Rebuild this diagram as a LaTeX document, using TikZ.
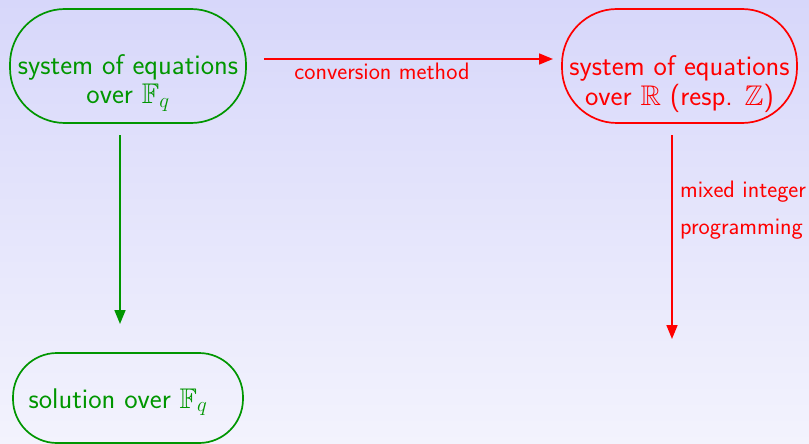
\documentclass[tikz,border=0pt]{standalone}
\usepackage{amssymb}
\usetikzlibrary{arrows.meta}
\definecolor{bgtop}{RGB}{215,215,250}
\definecolor{bgbot}{RGB}{243,243,253}
\definecolor{fgreen}{RGB}{0,150,0}
\definecolor{fred}{RGB}{255,0,0}
\tikzset{
  stadium/.style={draw=#1, text=#1, line width=1.7pt, inner sep=0pt,
    font=\sffamily\fontsize{28.4}{29.5}\selectfont, align=center},
  smalltext/.style={text=#1, font=\sffamily\fontsize{23.8}{37}\selectfont, inner sep=0pt},
  flow/.style={draw=#1, line width=1.7pt, -{Triangle[length=14pt,width=11pt]}}
}
\begin{document}
\begin{tikzpicture}[x=1pt,y=-1pt]
  % background
  \shade[top color=bgtop, bottom color=bgbot] (0,0) rectangle (809,444);
  \useasboundingbox (0,0) rectangle (809,444);

  % boxes with their texts (struts push the text below the box centre)
  \node[stadium=fgreen, rounded corners=55pt, minimum width=236pt, minimum height=114pt] (srcbox) at (128,66)
    {\rule{0pt}{54pt}system of equations\\ over $\mathbb{F}_q$};
  \node[stadium=fred, rounded corners=55pt, minimum width=235pt, minimum height=114pt] (dstbox) at (679.5,66)
    {\rule{0pt}{56pt}system of equations\\ over $\mathbb{R}$ (resp. $\mathbb{Z}$)};
  \node[stadium=fgreen, rounded corners=44pt, minimum width=230pt, minimum height=90pt] (solbox) at (128,398)
    {\rule{0pt}{28pt}solution over $\mathbb{F}_q$\hspace*{20pt}};

  % arrow end points
  \coordinate (convstart) at (264,59);
  \coordinate (convend) at (553,59);
  \coordinate (solvestart) at (120,135);
  \coordinate (solveend) at (120,324);
  \coordinate (milpstart) at (672,135);
  \coordinate (milpend) at (672,339);

  % connectors
  \draw[flow=fred] (convstart) -- (convend);
  \draw[flow=fgreen] (solvestart) -- (solveend);
  \draw[flow=fred] (milpstart) -- (milpend);

  % connector labels
  \node[smalltext=fred, anchor=base] (convlabel) at (382,80) {conversion method};
  \node[smalltext=fred, anchor=base west, align=left] (milplabel) at (680,234) {mixed integer\\ programming};
\end{tikzpicture}
\end{document}
